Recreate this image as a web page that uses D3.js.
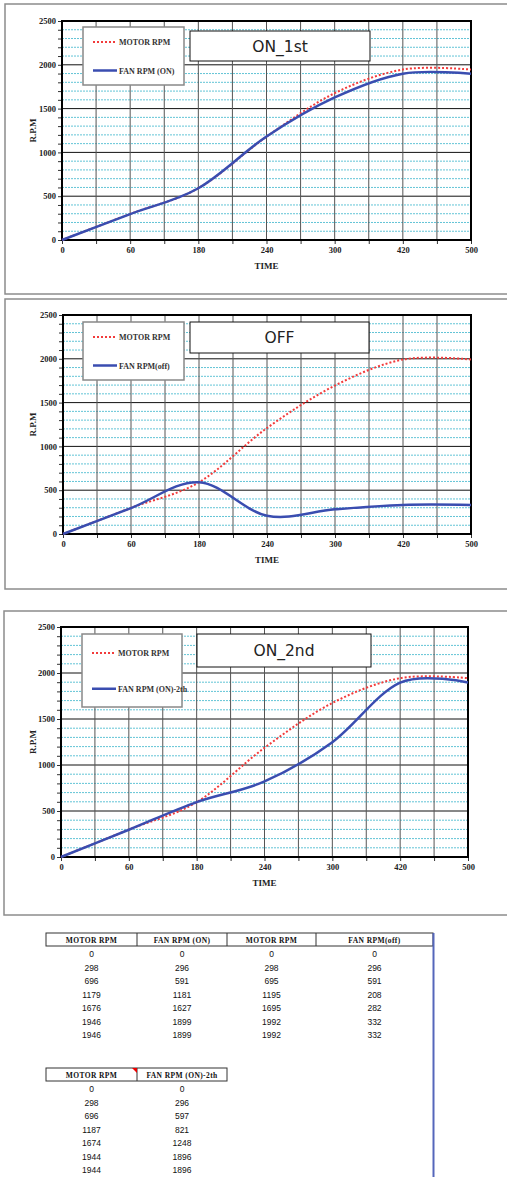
<!DOCTYPE html>
<meta charset="utf-8">
<style>
    body { margin: 0; background: white; }
    .axis text { font-family: "Liberation Serif", serif; font-weight: bold; font-size: 8.5px; fill: #222; }
    .axis path { display: none; }
    .axis line { stroke: #333; }
</style>
<body>
    <script src="https://d3js.org/d3.v7.min.js"></script>
    <script>
        // categories on the x axis
        var timeLabels = ["0", "60", "180", "240", "300", "420", "500"];

        // chart series
        var motorOn1 = [0, 298, 591, 1179, 1676, 1946, 1946];
        var fanOn1 = [0, 296, 591, 1181, 1627, 1899, 1899];
        var motorOff = [0, 298, 591, 1210, 1695, 1992, 1992];
        var fanOff = [0, 296, 591, 208, 282, 332, 332];
        var motorOn2 = [0, 298, 596, 1187, 1674, 1944, 1944];
        var fanOn2 = [0, 296, 597, 821, 1248, 1896, 1896];

        // table values
        var tableMotorOn = ["0", "298", "696", "1179", "1676", "1946", "1946"];
        var tableFanOn = ["0", "296", "591", "1181", "1627", "1899", "1899"];
        var tableMotorOff = ["0", "298", "695", "1195", "1695", "1992", "1992"];
        var tableFanOff = ["0", "296", "591", "208", "282", "332", "332"];
        var tableMotor2 = ["0", "298", "696", "1187", "1674", "1944", "1944"];
        var tableFan2 = ["0", "296", "597", "821", "1248", "1896", "1896"];

        var width = 507,
            height = 1177;

        var svg = d3.select("body").append("svg")
            .attr("width", width)
            .attr("height", height);

        var charts = [
            { title: "ON_1st", motor: motorOn1, fan: fanOn1, fanName: "FAN RPM (ON)",
              frame: [5, 4, 294], left: 62, right: 471, top: 21, bottom: 240,
              legend: [83, 27, 184, 85], box: [190, 31, 370, 61] },
            { title: "OFF", motor: motorOff, fan: fanOff, fanName: "FAN RPM(off)",
              frame: [5, 299, 589], left: 63, right: 471, top: 315, bottom: 534,
              legend: [83, 322, 184, 380], box: [190, 322, 369, 353] },
            { title: "ON_2nd", motor: motorOn2, fan: fanOn2, fanName: "FAN RPM (ON)-2th",
              frame: [4, 611, 915], left: 61, right: 468, top: 627, bottom: 857,
              legend: [82, 634, 182, 707], box: [197, 634, 371, 667] }
        ];

        charts.forEach(function(c) {
            var g = svg.append("g");

            // outer frame
            g.append("rect")
                .attr("x", c.frame[0]).attr("y", c.frame[1])
                .attr("width", 520).attr("height", c.frame[2] - c.frame[1])
                .attr("fill", "white").attr("stroke", "#8c8c8c").attr("stroke-width", 1.5);

            var x = d3.scaleLinear().domain([0, timeLabels.length - 1]).range([c.left, c.right]);
            var y = d3.scaleLinear().domain([0, 2500]).range([c.bottom, c.top]);

            // minor horizontal grid (dashed cyan)
            g.selectAll("line.minor")
                .data(d3.range(100, 2500, 100).filter(function(v) { return v % 500; }))
                .enter().append("line")
                .attr("x1", c.left).attr("x2", c.right)
                .attr("y1", function(d) { return y(d); }).attr("y2", function(d) { return y(d); })
                .attr("stroke", "#62c4d6").attr("stroke-width", 1)
                .attr("stroke-dasharray", "2,1");

            // major horizontal grid
            g.selectAll("line.major")
                .data(d3.range(500, 2500, 500))
                .enter().append("line")
                .attr("x1", c.left).attr("x2", c.right)
                .attr("y1", function(d) { return y(d); }).attr("y2", function(d) { return y(d); })
                .attr("stroke", "#111").attr("stroke-width", 1);

            // vertical grid at every half category
            g.selectAll("line.vert")
                .data(d3.range(0.5, timeLabels.length - 1, 0.5))
                .enter().append("line")
                .attr("x1", function(d) { return x(d); }).attr("x2", function(d) { return x(d); })
                .attr("y1", c.top).attr("y2", c.bottom)
                .attr("stroke", "#555").attr("stroke-width", 1);

            // axes
            g.append("g")
                .attr("class", "axis")
                .attr("transform", "translate(" + c.left + ",0)")
                .call(d3.axisLeft(y)
                    .tickValues(d3.range(0, 2501, 100))
                    .tickSize(4)
                    .tickPadding(2)
                    .tickFormat(function(v) { return v % 500 ? "" : v; }));

            g.append("g")
                .attr("class", "axis")
                .attr("transform", "translate(0," + c.bottom + ")")
                .call(d3.axisBottom(x)
                    .tickValues(d3.range(0, timeLabels.length - 0.9, 0.5))
                    .tickSize(4)
                    .tickPadding(3)
                    .tickFormat(function(i) { return Number.isInteger(i) ? timeLabels[i] : ""; }));

            // plot border
            g.append("rect")
                .attr("x", c.left).attr("y", c.top)
                .attr("width", c.right - c.left).attr("height", c.bottom - c.top)
                .attr("fill", "none").attr("stroke", "#000").attr("stroke-width", 2);

            // axis titles
            g.append("text")
                .attr("transform", "translate(36," + (c.top + c.bottom) / 2 + ") rotate(-90)")
                .attr("text-anchor", "middle")
                .style("font-family", "Liberation Serif, serif").style("font-weight", "bold")
                .style("font-size", "9px").style("fill", "#222")
                .text("R.P.M");

            g.append("text")
                .attr("x", (c.left + c.right) / 2).attr("y", c.bottom + 29)
                .attr("text-anchor", "middle")
                .style("font-family", "Liberation Serif, serif").style("font-weight", "bold")
                .style("font-size", "9px").style("fill", "#222")
                .text("TIME");

            // series
            var line = d3.line()
                .x(function(d, i) { return x(i); })
                .y(function(d) { return y(d); })
                .curve(d3.curveCardinal.tension(0));

            g.append("path")
                .attr("d", line(c.motor))
                .attr("fill", "none").attr("stroke", "#f23b3b").attr("stroke-width", 2)
                .attr("stroke-dasharray", "2,2");

            g.append("path")
                .attr("d", line(c.fan))
                .attr("fill", "none").attr("stroke", "#3a4db0").attr("stroke-width", 2.5);

            // legend
            var L = c.legend;
            g.append("rect")
                .attr("x", L[0]).attr("y", L[1]).attr("width", L[2] - L[0]).attr("height", L[3] - L[1])
                .attr("fill", "white").attr("stroke", "#888").attr("stroke-width", 1.5);
            var y1 = L[1] + (L[3] - L[1]) * 0.26,
                y2 = L[1] + (L[3] - L[1]) * 0.75;
            g.append("line")
                .attr("x1", L[0] + 10).attr("x2", L[0] + 34).attr("y1", y1).attr("y2", y1)
                .attr("stroke", "#f23b3b").attr("stroke-width", 2).attr("stroke-dasharray", "2,2");
            g.append("line")
                .attr("x1", L[0] + 10).attr("x2", L[0] + 34).attr("y1", y2).attr("y2", y2)
                .attr("stroke", "#3a4db0").attr("stroke-width", 2.5);
            [["MOTOR RPM", y1], [c.fanName, y2]].forEach(function(t) {
                g.append("text")
                    .attr("x", L[0] + 36).attr("y", t[1] + 3)
                    .style("font-family", "Liberation Serif, serif").style("font-weight", "bold")
                    .style("font-size", "8px").style("fill", "#333")
                    .text(t[0]);
            });

            // title box
            var B = c.box;
            g.append("rect")
                .attr("x", B[0]).attr("y", B[1]).attr("width", B[2] - B[0]).attr("height", B[3] - B[1])
                .attr("fill", "white").attr("stroke", "#111").attr("stroke-width", 1);
            g.append("text")
                .attr("x", (B[0] + B[2]) / 2).attr("y", (B[1] + B[3]) / 2 + 5.5)
                .attr("text-anchor", "middle")
                .style("font-family", "DejaVu Sans, sans-serif")
                .style("font-size", "15.5px").style("fill", "#222")
                .text(c.title);
        });

        // data tables
        function drawTable(top, cols, headers, columns) {
            var t = svg.append("g");
            t.append("rect")
                .attr("x", cols[0]).attr("y", top)
                .attr("width", cols[cols.length - 1] - cols[0]).attr("height", 13)
                .attr("fill", "white").attr("stroke", "#333").attr("stroke-width", 1);
            cols.slice(1, -1).forEach(function(cx) {
                t.append("line").attr("x1", cx).attr("x2", cx).attr("y1", top).attr("y2", top + 13)
                    .attr("stroke", "#333").attr("stroke-width", 1);
            });
            headers.forEach(function(h, i) {
                var mid = (cols[i] + cols[i + 1]) / 2;
                t.append("text")
                    .attr("x", mid).attr("y", top + 9.5).attr("text-anchor", "middle")
                    .style("font-family", "Liberation Serif, serif").style("font-weight", "bold")
                    .style("font-size", "7.5px").style("letter-spacing", "0.4px").style("fill", "#111")
                    .text(h);
                t.selectAll(null)
                    .data(columns[i])
                    .enter().append("text")
                    .attr("x", mid)
                    .attr("y", function(d, r) { return top + 24 + r * 13.5; })
                    .attr("text-anchor", "middle")
                    .style("font-family", "Liberation Sans, Arial, sans-serif")
                    .style("font-size", "8.5px").style("fill", "#111")
                    .text(function(d) { return d; });
            });
            return t;
        }

        drawTable(933, [46, 137, 227, 316, 433],
            ["MOTOR RPM", "FAN RPM (ON)", "MOTOR RPM", "FAN RPM(off)"],
            [tableMotorOn, tableFanOn, tableMotorOff, tableFanOff]);

        var t2 = drawTable(1068, [46, 137, 227],
            ["MOTOR RPM", "FAN RPM (ON)-2th"],
            [tableMotor2, tableFan2]);
        t2.append("path")
            .attr("d", "M132,1068L137,1068L137,1073Z")
            .attr("fill", "#e00");

        // blue sheet edge on the right of the table
        svg.append("line")
            .attr("x1", 433.5).attr("x2", 433.5).attr("y1", 933).attr("y2", height)
            .attr("stroke", "#5566bb").attr("stroke-width", 2);
    </script>
</body>
</html>
